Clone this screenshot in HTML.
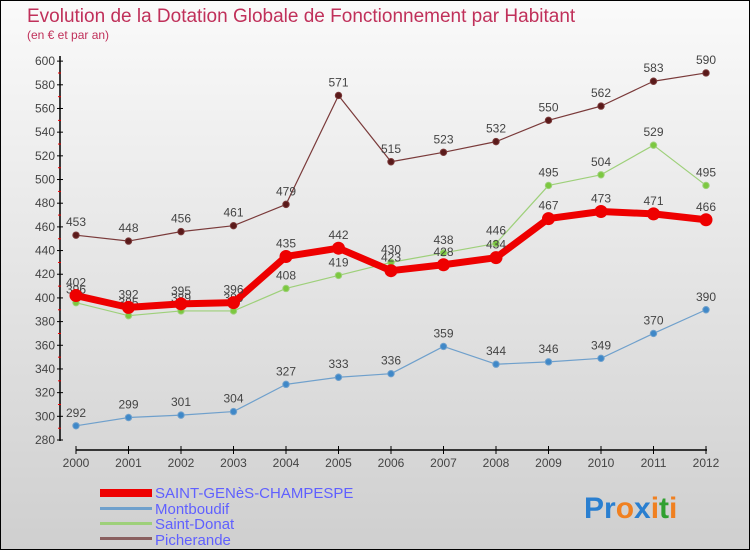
<!DOCTYPE html>
<html><head><meta charset="utf-8"><style>
body{margin:0;width:750px;height:550px;overflow:hidden;font-family:"Liberation Sans",sans-serif}
#c{position:absolute;left:0;top:0;width:748px;height:548px;border:1px solid #000;background:linear-gradient(#fafafa,#cfcfcf)}
</style></head><body>
<div id="c">
<svg id="s" width="750" height="550" style="position:absolute;left:-1px;top:-1px">
<text x="27" y="22" font-size="19" fill="#c0305a">Evolution de la Dotation Globale de Fonctionnement par Habitant</text>
<text x="27" y="39" font-size="12" fill="#c0305a">(en € et par an)</text>
<g id="axes"></g><g id="series"></g>
<g>
<rect x="100" y="489" width="52" height="8" fill="#e00"/>
<text x="155" y="498" font-size="15" fill="#6060ff">SAINT-GENèS-CHAMPESPE</text>
<rect x="100" y="507" width="52" height="3" fill="#6fa0cc"/>
<text x="155" y="514" font-size="15" fill="#6060ff">Montboudif</text>
<rect x="100" y="522" width="52" height="3" fill="#9ed07a"/>
<text x="155" y="529" font-size="15" fill="#6060ff">Saint-Donat</text>
<rect x="100" y="537" width="52" height="3" fill="#8a6060"/>
<text x="155" y="545" font-size="15" fill="#6060ff">Picherande</text>
</g>
<text x="584" y="518" font-size="30" font-weight="bold"><tspan fill="#2a7fd0">Pr</tspan><tspan fill="#f08020">o</tspan><tspan fill="#2a7fd0">x</tspan><tspan fill="#f08020">i</tspan><tspan fill="#30a030">t</tspan><tspan fill="#f08020">i</tspan></text>
</svg></div>
<script>
const years=[2000,2001,2002,2003,2004,2005,2006,2007,2008,2009,2010,2011,2012];
const yTicks=[280,300,320,340,360,380,400,420,440,460,480,500,520,540,560,580,600];
const saintGenes=[402,392,395,396,435,442,423,428,434,467,473,471,466];
const montboudif=[292,299,301,304,327,333,336,359,344,346,349,370,390];
const saintDonat=[396,385,389,389,408,419,430,438,446,495,504,529,495];
const picherande=[453,448,456,461,479,571,515,523,532,550,562,583,590];
const NS='http://www.w3.org/2000/svg';
const X=i=>76+i*52.5, Y=v=>440-(v-280)*1.184;
function mk(p,t,a){const e=document.createElementNS(NS,t);for(const k in a)e.setAttribute(k,a[k]);p.appendChild(e);return e;}
const ax=document.getElementById('axes');
let l=mk(ax,'line',{x1:60,y1:56,x2:60,y2:441,stroke:'#000','stroke-width':1.5});

l=mk(ax,'line',{x1:76,y1:450,x2:707,y2:450,stroke:'#000','stroke-width':1.5});

yTicks.forEach((v,i)=>{const y=Y(v);
 mk(ax,'line',{x1:57,y1:y,x2:63,y2:y,stroke:'#000'});
 if(i<yTicks.length-1)mk(ax,'line',{x1:58,y1:y-11.8,x2:61,y2:y-11.8,stroke:'#e00'});
 const t=mk(ax,'text',{x:55,y:y+4,'font-size':12,fill:'#444','text-anchor':'end'});t.textContent=v;
 });
years.forEach((yr,i)=>{const x=X(i);
 mk(ax,'line',{x1:x,y1:446,x2:x,y2:454,stroke:'#000'});
 const t=mk(ax,'text',{x:x,y:467,'font-size':12,fill:'#444','text-anchor':'middle'});t.textContent=yr;
 });
const sg=document.getElementById('series');
function draw(d,name,col,w,r,dot,lab){
 const g=mk(sg,'g',{});
 const p=mk(g,'polyline',{points:d.map((v,i)=>X(i)+','+Y(v)).join(' '),fill:'none',stroke:col,'stroke-width':w,'stroke-linejoin':'round'});
 
 d.forEach((v,i)=>{const c=mk(g,'circle',{cx:X(i),cy:Y(v),r:r,fill:dot,stroke:col,'stroke-width':1});
  
  const t=mk(g,'text',{x:X(i),y:Y(v)-9,'font-size':lab,fill:'#444','text-anchor':'middle'});t.textContent=v;
  });
}
draw(picherande,'picherande','#7a3a3a',1.2,3.2,'#5a1a1a',12);
draw(montboudif,'montboudif','#6fa0cc',1.2,3.2,'#3f88c8',12);
draw(saintDonat,'saint-donat','#9ed07a',1.2,3.2,'#7cc840',12);
draw(saintGenes,'saint-genes','#e00',7,6,'#e00',12);
</script>
</body></html>
